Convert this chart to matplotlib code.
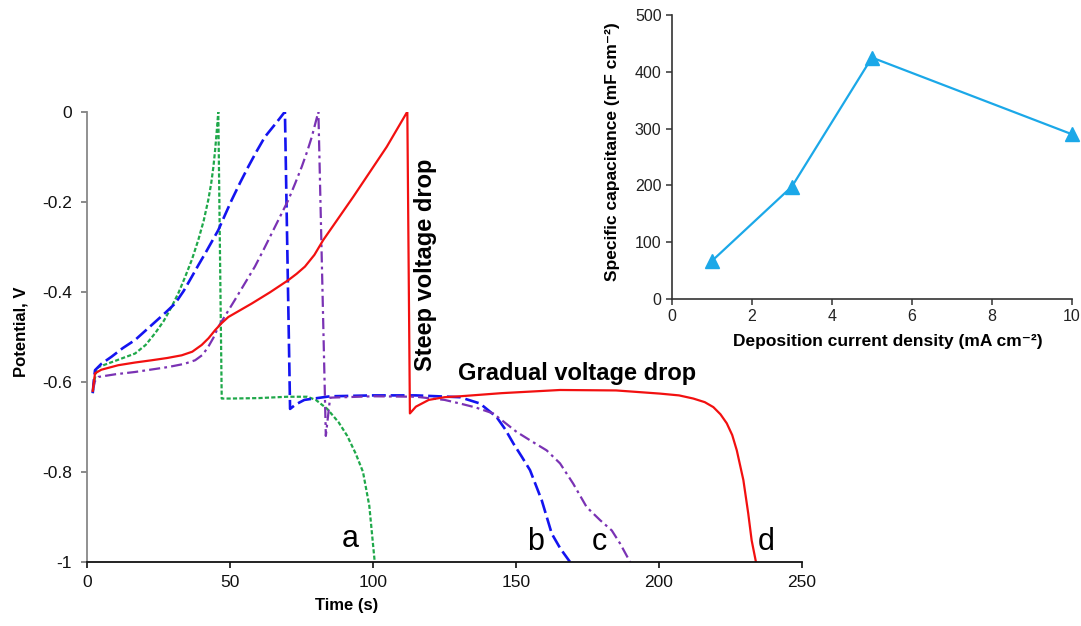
import matplotlib
matplotlib.use("Agg")
import matplotlib.pyplot as plt

plt.rcParams.update({
    "font.family": ["Liberation Sans", "DejaVu Sans"],
    "axes.unicode_minus": False,
    "lines.scale_dashes": False,
})

# curve a (green, dotted)
t_a = [2, 2.5, 3.2, 4.0, 10, 16.8, 20.5, 23.8, 26.8, 29.6, 32, 34.3, 36.7, 38.9, 40.8, 42.4, 43.4,
       44.2, 44.8, 45.3, 45.9,
       47.1, 50, 60, 70, 77, 80, 84, 88, 91, 94, 96.5, 98.7, 100.6]
v_a = [-0.625, -0.60, -0.578, -0.567, -0.553, -0.537, -0.518, -0.492, -0.465, -0.433, -0.402, -0.367,
       -0.328, -0.285, -0.242, -0.196, -0.16, -0.122, -0.085, -0.048, 0.0,
       -0.637, -0.637, -0.636, -0.633, -0.633, -0.64, -0.66, -0.69, -0.72, -0.76, -0.80, -0.875, -1.0]

# curve b (blue, dashed)
t_b = [2, 2.4, 2.8, 5, 8.6, 12.5, 16.8, 20.3, 23.8, 27.3, 30.8, 33.8, 36.6, 39, 41.3, 43.6, 45.9,
       48.2, 50.6, 53.5, 56.4, 59.3, 62.2, 65.5, 67.5, 69.2,
       71, 73, 76, 85, 100, 115, 130.4, 137.4, 143.2, 146.2, 149.1, 152, 154.9, 159, 162.5, 165.5,
       168.9]
v_b = [-0.625, -0.595, -0.574, -0.56, -0.544, -0.525, -0.507, -0.487, -0.467, -0.447, -0.426, -0.398,
       -0.367, -0.34, -0.315, -0.289, -0.263, -0.23, -0.196, -0.158, -0.122, -0.088, -0.056, -0.03,
       -0.014, 0.0,
       -0.66, -0.65, -0.64, -0.632, -0.63, -0.63, -0.634, -0.648, -0.678, -0.705, -0.737, -0.766,
       -0.796, -0.863, -0.937, -0.97, -1.0]

# curve c (purple, dash-dot)
t_c = [2, 2.8, 4.0, 10, 16.8, 28.4, 34, 37.8, 40.4, 42.4, 44.2, 45.9, 48.8, 51.7, 55.2, 58.7, 61.7,
       64.6, 67.5, 70.4, 72.8, 75.1, 77, 78.6, 80.9,
       83.5, 85, 100, 115, 125, 130.4, 136, 142, 146, 150.2, 155.5, 160.7, 165.4, 170, 174.7, 179.4,
       183.5, 186.4, 189.9]
v_c = [-0.62, -0.598, -0.589, -0.583, -0.578, -0.567, -0.56, -0.552, -0.54, -0.522, -0.502, -0.478,
       -0.448, -0.418, -0.381, -0.344, -0.307, -0.27, -0.233, -0.196, -0.159, -0.122, -0.088, -0.056,
       0.0,
       -0.72, -0.635, -0.632, -0.633, -0.64, -0.648, -0.657, -0.67, -0.69, -0.711, -0.732, -0.752,
       -0.781, -0.826, -0.878, -0.907, -0.93, -0.959, -1.0]

# curve d (red, solid)
t_d = [2, 2.4, 2.8, 5, 10.9, 16.8, 22.6, 28, 33.1, 36.8, 40.1, 42.5, 44.8, 47, 49.4, 53.5, 57.6,
       64, 70.4, 73.3, 76.2, 79.5, 82.6, 93.1, 104.8, 112,
       112.9, 115, 119.5, 125, 130.4, 145, 165.4, 185, 200.3, 207, 212, 216, 219, 221.5, 223.7,
       225.6, 227.2, 229.5, 231.2, 232.4, 233.9]
v_d = [-0.62, -0.6, -0.581, -0.573, -0.563, -0.557, -0.552, -0.547, -0.541, -0.533, -0.518, -0.503,
       -0.485, -0.47, -0.456, -0.441, -0.426, -0.401, -0.374, -0.36, -0.344, -0.318, -0.285, -0.189,
       -0.078, 0.0,
       -0.67, -0.655, -0.64, -0.634, -0.632, -0.625, -0.618, -0.619, -0.626, -0.63, -0.637, -0.645,
       -0.656, -0.672, -0.692, -0.718, -0.752, -0.818, -0.892, -0.952, -1.0]

curve_labels = ["a", "b", "c", "d"]
label_pos = [(92, -0.967), (157, -0.973), (179, -0.973), (237.4, -0.973)]

x_ticks = [0, 50, 100, 150, 200, 250]
y_ticks = [0, -0.2, -0.4, -0.6, -0.8, -1]
y_ticklabels = ["0", "-0.2", "-0.4", "-0.6", "-0.8", "-1"]

# inset data
density = [1, 3, 5, 10]
capacitance = [67, 198, 425, 290]

fig = plt.figure(figsize=(10.81, 6.26), dpi=100)
ax = fig.add_axes([0.0805, 0.1022, 0.6614, 0.7194])

ax.plot(t_a, v_a, color="#1FA84A", lw=1.6, dashes=(3, 1.6))
ax.plot(t_b, v_b, color="#1414F0", lw=1.9, dashes=(10, 3.5))
ax.plot(t_c, v_c, color="#7A32B4", lw=1.6, dashes=(8, 3, 2, 3))
ax.plot(t_d, v_d, color="#F21010", lw=1.6)

for lab, (x, y) in zip(curve_labels, label_pos):
    ax.text(x, y, lab, fontsize=22, ha="center", va="baseline")

ax.text(118.2, -0.34, "Steep voltage drop", rotation=90, fontsize=17, fontweight="bold",
        ha="center", va="center")
ax.text(171.3, -0.581, "Gradual voltage drop", fontsize=17, fontweight="bold",
        ha="center", va="center")

ax.set_xlim(0, 250)
ax.set_ylim(-1, 0)
ax.set_xticks(x_ticks)
ax.set_yticks(y_ticks)
ax.set_yticklabels(y_ticklabels)
ax.spines["top"].set_visible(False)
ax.spines["right"].set_visible(False)
ax.spines["left"].set_color("#888888")
ax.spines["left"].set_linewidth(1.3)
ax.spines["bottom"].set_color("#111111")
ax.spines["bottom"].set_linewidth(1.3)
ax.tick_params(axis="y", direction="out", length=4, width=1.2, color="#777777",
               labelsize=12.5, pad=7, labelcolor="#111111")
ax.tick_params(axis="x", direction="out", length=4, width=1.2, color="#111111",
               labelsize=12.5, pad=5, labelcolor="#111111")
fig.text(0.0194, 0.47, "Potential, V", rotation=90, fontsize=12, fontweight="bold",
         ha="center", va="center")
fig.text(0.321, 0.0335, "Time (s)", fontsize=12, fontweight="bold", ha="center", va="center")

# inset
ins = fig.add_axes([0.6216, 0.5224, 0.3700, 0.4537])
ins.plot(density, capacitance, color="#1BA8E8", lw=1.6, marker="^", markersize=10,
         markerfacecolor="#1BA8E8", markeredgecolor="#1BA8E8", clip_on=False)
ins.set_xlim(0, 10)
ins.set_ylim(0, 500)
ins.set_xticks([0, 2, 4, 6, 8, 10])
ins.set_yticks([0, 100, 200, 300, 400, 500])
ins.spines["top"].set_visible(False)
ins.spines["right"].set_visible(False)
for s in ["left", "bottom"]:
    ins.spines[s].set_color("#333333")
    ins.spines[s].set_linewidth(1.2)
ins.tick_params(direction="out", length=4, width=1.1, color="#333333", labelsize=11.5,
                labelcolor="#222222")
fig.text(0.567, 0.757, "Specific capacitance (mF cm⁻²)", rotation=90, fontsize=12.5,
         fontweight="bold", ha="center", va="center")
fig.text(0.8215, 0.455, "Deposition current density (mA cm⁻²)", fontsize=12.5,
         fontweight="bold", ha="center", va="center")

fig.savefig("out.png", dpi=100)
